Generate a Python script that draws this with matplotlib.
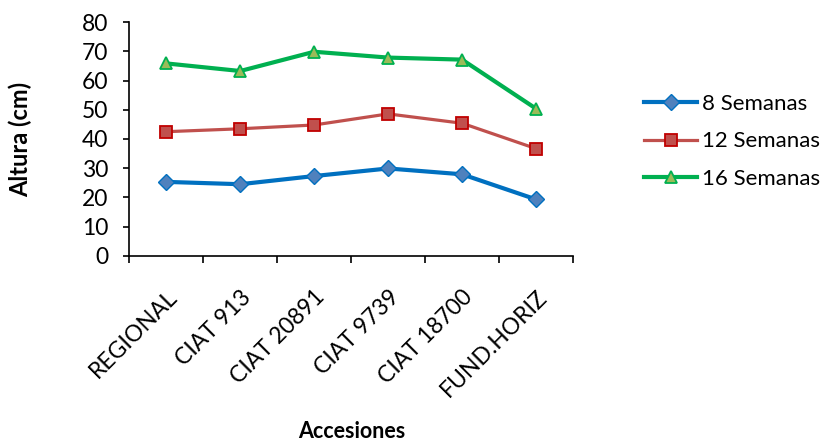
import matplotlib.pyplot as plt
import numpy as np

# Altura de plantas por accesión y semana de evaluación
accesiones = ['REGIONAL', 'CIAT 913', 'CIAT 20891', 'CIAT 9739', 'CIAT 18700', 'FUND.HORIZ']
sem8 = [25.3, 24.5, 27.3, 29.9, 27.9, 19.3]
sem12 = [42.5, 43.5, 44.8, 48.6, 45.4, 36.7]
sem16 = [65.9, 63.3, 69.9, 67.9, 67.2, 50.4]

plt.rcParams['font.family'] = ['Lato', 'DejaVu Sans']
fs = 16.5

fig = plt.figure(figsize=(8.36, 4.43), dpi=100)
ax = fig.add_axes([0.1547, 0.4228, 0.5307, 0.5269])

x = np.arange(len(accesiones))
ax.plot(x, sem8, color='#0070C0', linewidth=3, marker='D', markersize=8,
        markerfacecolor='#4F81BD', markeredgecolor='#0070C0', markeredgewidth=1,
        label='8 Semanas')
ax.plot(x, sem12, color='#C0504D', linewidth=2.3, marker='s', markersize=9,
        markerfacecolor='#C0504D', markeredgecolor='#C00000', markeredgewidth=1.3,
        label='12 Semanas')
ax.plot(x, sem16, color='#00B050', linewidth=3, marker='^', markersize=9,
        markerfacecolor='#9BBB59', markeredgecolor='#00B050', markeredgewidth=1.3,
        label='16 Semanas')

ax.set_xlim(-0.5, len(accesiones) - 0.5)
ax.set_ylim(0, 80)
ax.set_yticks(range(0, 81, 10))

# marcas entre categorías, etiquetas centradas en cada categoría
ax.set_xticks(np.arange(-0.5, len(accesiones)), labels=[])
ax.set_xticks(x, labels=accesiones, minor=True)
ax.tick_params(axis='x', which='minor', length=0, pad=22)
ax.tick_params(axis='x', which='major', length=5, direction='out', width=1.2)
ax.tick_params(axis='y', length=4, direction='out', width=1.2, labelsize=fs, pad=11)
for lbl in ax.get_xticklabels(minor=True):
    lbl.set_rotation(45)
    lbl.set_ha('right')
    lbl.set_rotation_mode('anchor')
    lbl.set_fontsize(fs)

for s in ['top', 'right']:
    ax.spines[s].set_visible(False)
ax.spines['left'].set_linewidth(1.2)
ax.spines['bottom'].set_linewidth(1.2)

ax.set_ylabel('Altura (cm)', fontsize=17, fontweight='bold')
ax.yaxis.set_label_coords(-0.218, 0.5)
fig.text(0.421, 0.025, 'Accesiones', fontsize=15.5, fontweight='bold',
         ha='center', va='center')

ax.legend(loc='center left', bbox_to_anchor=(1.13, 0.49), frameon=False,
          fontsize=16, handlelength=2.4, handletextpad=0.2, labelspacing=0.8,
          borderaxespad=0.2)

fig.savefig('out.png', dpi=100)
